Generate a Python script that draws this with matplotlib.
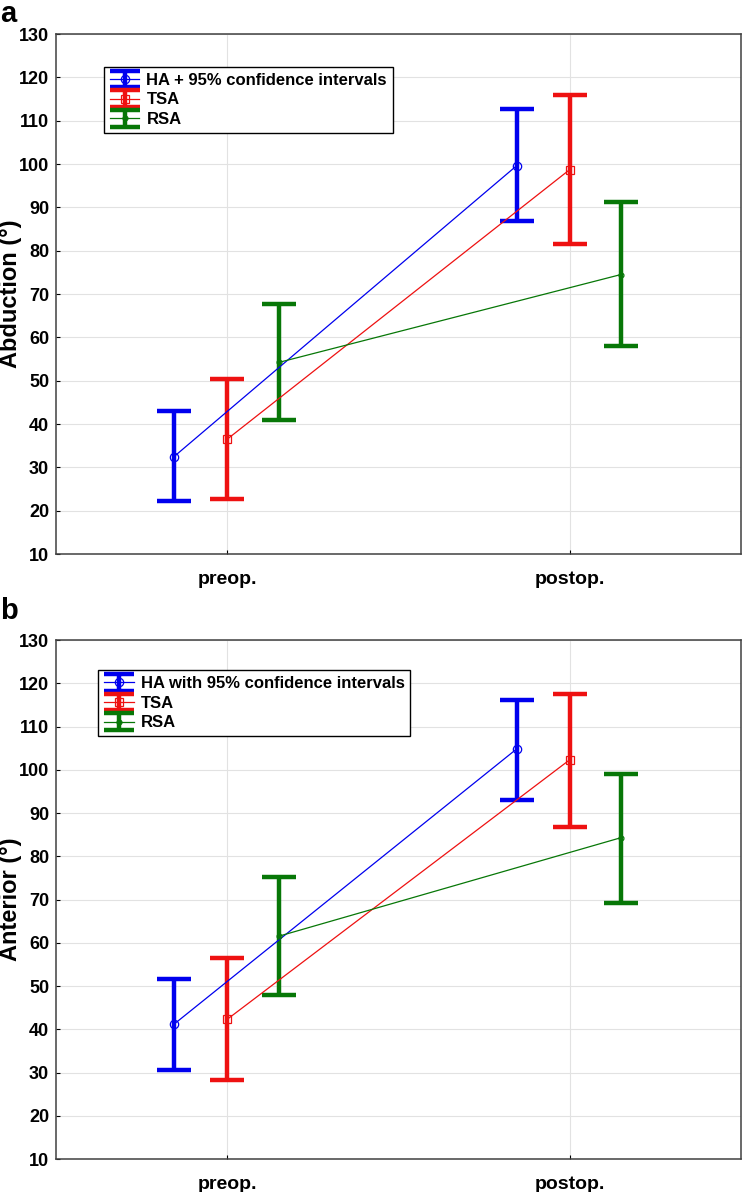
import numpy as np
import matplotlib.pyplot as plt
from matplotlib.legend_handler import HandlerErrorbar

plt.rcParams['font.family'] = ['Liberation Sans', 'DejaVu Sans']
plt.rcParams['font.weight'] = 'bold'

phases = ["preop.", "postop."]
groups = ["HA", "TSA", "RSA"]

# panel a: abduction, mean and 95% CI bounds (preop, postop)
abd_mean = {"HA": [32.5, 99.6], "TSA": [36.5, 98.7], "RSA": [54.2, 74.5]}
abd_low = {"HA": [22.2, 86.8], "TSA": [22.6, 81.5], "RSA": [41.0, 58.0]}
abd_high = {"HA": [43.0, 112.7], "TSA": [50.4, 115.9], "RSA": [67.6, 91.2]}

# panel b: anterior elevation
ant_mean = {"HA": [41.2, 104.8], "TSA": [42.3, 102.3], "RSA": [61.5, 84.3]}
ant_low = {"HA": [30.6, 93.0], "TSA": [28.2, 86.8], "RSA": [48.0, 69.3]}
ant_high = {"HA": [51.7, 116.2], "TSA": [56.5, 117.6], "RSA": [75.1, 99.0]}

colors = {"HA": "#0000ee", "TSA": "#ee1111", "RSA": "#077707"}
markers = {"HA": "o", "TSA": "s", "RSA": "o"}
msizes = {"HA": 6, "TSA": 6, "RSA": 3.5}
offsets = {"HA": -0.155, "TSA": 0.0, "RSA": 0.15}


class CapHandler(HandlerErrorbar):
    # narrower caps in the legend than on the plot
    def create_artists(self, *args, **kwargs):
        arts = super().create_artists(*args, **kwargs)
        for a in arts:
            if hasattr(a, "get_marker") and a.get_marker() == "_":
                a.set_markersize(21)
        return arts


fig = plt.figure(figsize=(7.42, 11.92), dpi=100)
ax_a = fig.add_axes([0.0755, 0.53523, 0.923, 0.43624])
ax_b = fig.add_axes([0.0755, 0.02768, 0.923, 0.4354])


def draw(ax, mean, low, high, ylabel, first_label, leg_anchor):
    x = np.arange(len(phases))
    for g in groups:
        m = np.array(mean[g])
        err = np.array([m - np.array(low[g]), np.array(high[g]) - m])
        lab = g if g != "HA" else first_label
        cont = ax.errorbar(x + offsets[g], m, yerr=err, color=colors[g], lw=0.9,
                           marker=markers[g], ms=msizes[g], mfc="none",
                           mec=colors[g], elinewidth=3.2, capsize=12.5,
                           capthick=3.2, label=lab, zorder=3)
        cont.lines[0].set_markeredgewidth(0.9)
    ax.set_xlim(-0.5, 1.5)
    ax.set_ylim(10, 130)
    ax.set_yticks(np.arange(10, 131, 10))
    ax.set_xticks(x)
    ax.set_xticklabels(phases, fontsize=14, fontweight="bold")
    ax.tick_params(axis="y", labelsize=13, direction="in", length=3, pad=5)
    ax.tick_params(axis="x", direction="in", length=3, pad=12)
    for t in ax.get_yticklabels():
        t.set_fontweight("bold")
    ax.grid(True, color="#e2e2e2", lw=0.8, zorder=0)
    ax.set_axisbelow(True)
    for s in ax.spines.values():
        s.set_color("#404040")
        s.set_linewidth(1.1)
    ax.set_ylabel(ylabel, fontsize=17, fontweight="bold")
    ax.yaxis.set_label_coords(-0.05, 0.5)
    leg = ax.legend(loc="upper left", bbox_to_anchor=leg_anchor, borderaxespad=0,
                    fancybox=False, edgecolor="black", framealpha=1,
                    prop={"size": 12, "weight": "bold"}, handlelength=1.75,
                    handletextpad=0.42, labelspacing=0.28, borderpad=0.36,
                    handler_map={type(cont): CapHandler()})
    leg.get_frame().set_linewidth(1.0)


draw(ax_a, abd_mean, abd_low, abd_high, "Abduction (°)",
     "HA + 95% confidence intervals", (0.0705, 0.937))
draw(ax_b, ant_mean, ant_low, ant_high, "Anterior (°)",
     "HA with 95% confidence intervals", (0.0618, 0.942))

fig.text(0.0, 1.0, "a", fontsize=21, fontweight="bold", va="top")
fig.text(0.0, 0.4992, "b", fontsize=21, fontweight="bold", va="top")

fig.savefig("out.png", dpi=100)
